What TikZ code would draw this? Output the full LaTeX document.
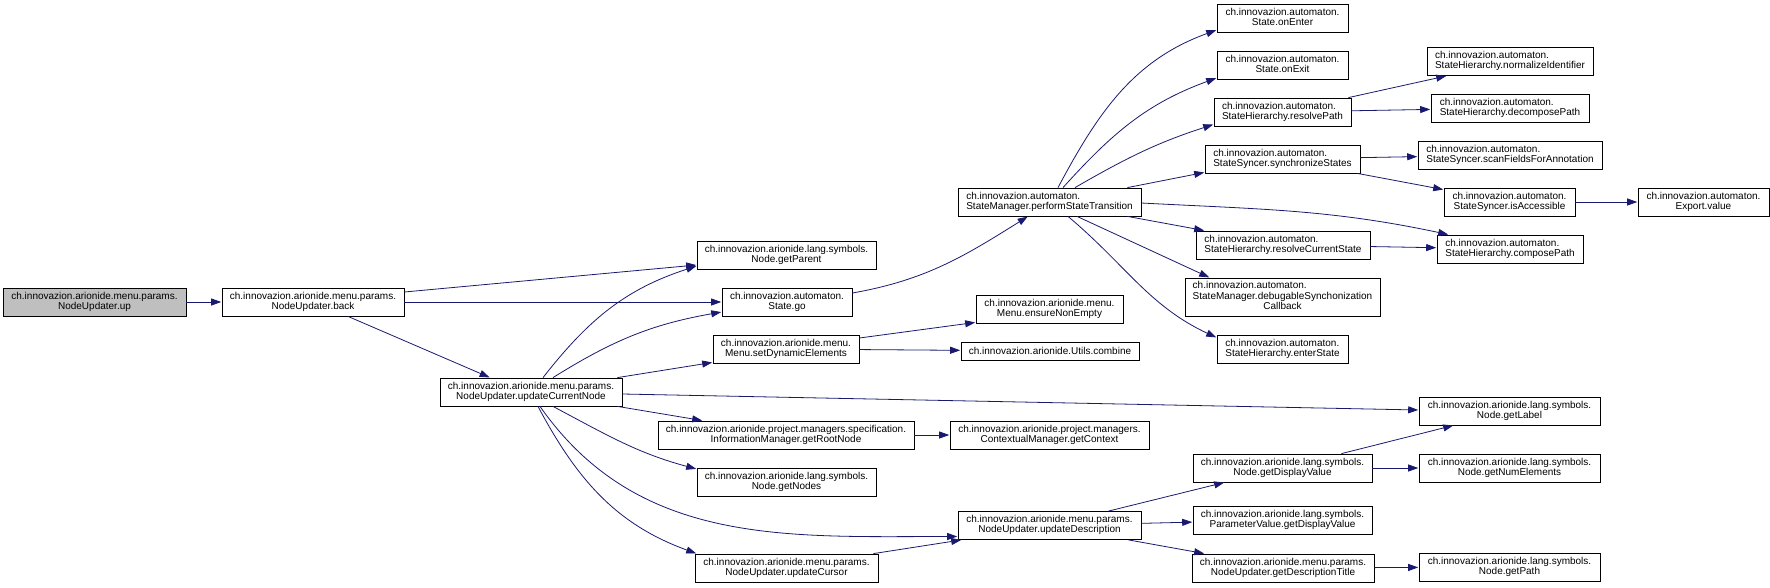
\documentclass[tikz,border=0pt]{standalone}
\usepackage{fontspec}
\setmainfont{Liberation Sans}
\usetikzlibrary{arrows.meta}
\definecolor{callblue}{HTML}{191970}
\definecolor{rootgray}{HTML}{BFBFBF}
\newcommand{\fnlabel}[2]{\begin{tabular}{@{}l@{}}#1\\\multicolumn{1}{@{}c@{}}{#2}\end{tabular}}
\tikzset{
  fn/.style={draw=black,fill=white,line width=0.8pt,inner sep=2pt,
    minimum height=28pt,font=\fontsize{10}{10}\selectfont},
  rootfn/.style={fn,fill=rootgray},
  call/.style={draw=callblue,line width=0.8pt,
    -{Triangle[length=10pt,width=7pt]},shorten >=0.4pt},
}
\begin{document}
\begin{tikzpicture}[x=1pt,y=1pt]
  \useasboundingbox (0,0) rectangle (1770,-587);
  % column 0 and 1
  \node[rootfn,minimum width=183pt] (up) at (94.5,-302)
    {\fnlabel{ch.innovazion.arionide.menu.params.}{NodeUpdater.up}};
  \node[fn,minimum width=182pt] (back) at (313,-302)
    {\fnlabel{ch.innovazion.arionide.menu.params.}{NodeUpdater.back}};
  \node[fn,minimum width=182pt] (updCur) at (531,-392)
    {\fnlabel{ch.innovazion.arionide.menu.params.}{NodeUpdater.updateCurrentNode}};
  % column 2
  \node[fn,minimum width=179pt] (getParent) at (786.5,-255)
    {\fnlabel{ch.innovazion.arionide.lang.symbols.}{Node.getParent}};
  \node[fn,minimum width=130pt] (go) at (787,-302)
    {\fnlabel{ch.innovazion.automaton.}{State.go}};
  \node[fn,minimum width=146pt] (setDyn) at (786,-349)
    {\fnlabel{ch.innovazion.arionide.menu.}{Menu.setDynamicElements}};
  \node[fn,minimum width=256pt] (getRootNode) at (786,-435)
    {\fnlabel{ch.innovazion.arionide.project.managers.specification.}{InformationManager.getRootNode}};
  \node[fn,minimum width=179pt] (getNodes) at (786.5,-482)
    {\fnlabel{ch.innovazion.arionide.lang.symbols.}{Node.getNodes}};
  \node[fn,minimum width=183pt] (updCursor) at (786.5,-568)
    {\fnlabel{ch.innovazion.arionide.menu.params.}{NodeUpdater.updateCursor}};
  % column 3
  \node[fn,minimum width=183pt] (perform) at (1049.5,-202)
    {\fnlabel{ch.innovazion.automaton.}{StateManager.performStateTransition}};
  \node[fn,minimum width=147pt] (ensureNonEmpty) at (1049.5,-309)
    {\fnlabel{ch.innovazion.arionide.menu.}{Menu.ensureNonEmpty}};
  \node[fn,minimum width=178pt,minimum height=18pt] (combine) at (1050,-351)
    {ch.innovazion.arionide.Utils.combine};
  \node[fn,minimum width=199pt] (getContext) at (1049.5,-435)
    {\fnlabel{ch.innovazion.arionide.project.managers.}{ContextualManager.getContext}};
  \node[fn,minimum width=183pt] (updDesc) at (1049.5,-525.5)
    {\fnlabel{ch.innovazion.arionide.menu.params.}{NodeUpdater.updateDescription}};
  % column 4
  \node[fn,minimum width=131pt] (onEnter) at (1282.5,-18)
    {\fnlabel{ch.innovazion.automaton.}{State.onEnter}};
  \node[fn,minimum width=131pt] (onExit) at (1282.5,-65)
    {\fnlabel{ch.innovazion.automaton.}{State.onExit}};
  \node[fn,minimum width=137pt] (resolvePath) at (1282.5,-112)
    {\fnlabel{ch.innovazion.automaton.}{StateHierarchy.resolvePath}};
  \node[fn,minimum width=155pt] (syncStates) at (1282.5,-159)
    {\fnlabel{ch.innovazion.automaton.}{StateSyncer.synchronizeStates}};
  \node[fn,minimum width=174pt] (resolveCurrent) at (1283,-245)
    {\fnlabel{ch.innovazion.automaton.}{StateHierarchy.resolveCurrentState}};
  \node[fn,minimum width=195pt,minimum height=38pt] (debugCallback) at (1282.5,-297)
    {\fnlabel{ch.innovazion.automaton.\\StateManager.debugableSynchonization}{Callback}};
  \node[fn,minimum width=131pt] (enterState) at (1282.5,-349)
    {\fnlabel{ch.innovazion.automaton.}{StateHierarchy.enterState}};
  \node[fn,minimum width=179pt] (nodeDisplay) at (1282.5,-468)
    {\fnlabel{ch.innovazion.arionide.lang.symbols.}{Node.getDisplayValue}};
  \node[fn,minimum width=179pt] (paramDisplay) at (1282.5,-520)
    {\fnlabel{ch.innovazion.arionide.lang.symbols.}{ParameterValue.getDisplayValue}};
  \node[fn,minimum width=182pt] (descTitle) at (1283,-568)
    {\fnlabel{ch.innovazion.arionide.menu.params.}{NodeUpdater.getDescriptionTitle}};
  % column 5 and 6
  \node[fn,minimum width=166pt] (normalizeId) at (1510,-61.5)
    {\fnlabel{ch.innovazion.automaton.}{StateHierarchy.normalizeIdentifier}};
  \node[fn,minimum width=158pt] (decomposePath) at (1510,-108)
    {\fnlabel{ch.innovazion.automaton.}{StateHierarchy.decomposePath}};
  \node[fn,minimum width=184pt] (scanFields) at (1510,-155)
    {\fnlabel{ch.innovazion.automaton.}{StateSyncer.scanFieldsForAnnotation}};
  \node[fn,minimum width=131pt] (isAccessible) at (1509.5,-202)
    {\fnlabel{ch.innovazion.automaton.}{StateSyncer.isAccessible}};
  \node[fn,minimum width=131pt] (exportValue) at (1703.5,-202)
    {\fnlabel{ch.innovazion.automaton.}{Export.value}};
  \node[fn,minimum width=146pt] (composePath) at (1510,-249)
    {\fnlabel{ch.innovazion.automaton.}{StateHierarchy.composePath}};
  \node[fn,minimum width=181pt] (getLabel) at (1509.5,-411)
    {\fnlabel{ch.innovazion.arionide.lang.symbols.}{Node.getLabel}};
  \node[fn,minimum width=181pt] (getNumElements) at (1509.5,-468)
    {\fnlabel{ch.innovazion.arionide.lang.symbols.}{Node.getNumElements}};
  \node[fn,minimum width=181pt] (getPath) at (1509.5,-567)
    {\fnlabel{ch.innovazion.arionide.lang.symbols.}{Node.getPath}};

  % straight calls between box centres
  \foreach \a/\b in {up/back,back/go,setDyn/combine,getRootNode/getContext,
      resolvePath/decomposePath,syncStates/scanFields,isAccessible/exportValue,
      resolveCurrent/composePath,updDesc/paramDisplay,nodeDisplay/getNumElements,
      descTitle/getPath}
    \draw[call] (\a) -- (\b);

  % straight calls between border points
  \draw[call] ([yshift=10pt]back.east) -- ([yshift=-10pt]getParent.west);
  \draw[call] ([xshift=35pt]back.south) -- ([xshift=-41pt]updCur.north);
  \draw[call] ([xshift=-5pt]updCur.north east) -- ([yshift=1pt]setDyn.south west);
  \draw[call] ([yshift=-2pt]updCur.east) -- ([yshift=1pt]getLabel.west);
  \draw[call] ([xshift=-5pt]updCur.south east) -- ([xshift=45pt]getRootNode.north west);
  \draw[call] ([yshift=11pt]setDyn.east) -- ([yshift=1pt]ensureNonEmpty.south west);
  \draw[call] ([xshift=-5pt]updCursor.north east) -- ([xshift=4pt]updDesc.south west);
  \draw[call] ([xshift=-14pt]perform.north east) -- ([yshift=1pt]syncStates.south west);
  \draw[call] ([xshift=-14pt]perform.south east) -- ([xshift=9pt]resolveCurrent.north west);
  \draw[call] ([xshift=27.5pt]perform.south) -- ([xshift=25pt]debugCallback.north west);
  \draw[call] ([xshift=-3pt]resolvePath.north east) -- ([xshift=20pt]normalizeId.south west);
  \draw[call] ([xshift=-3pt]syncStates.south east) -- ([yshift=-2pt]isAccessible.north west);
  \draw[call] ([xshift=-33pt]updDesc.north east) -- ([xshift=32pt]nodeDisplay.south west);
  \draw[call] ([xshift=-13pt]updDesc.south east) -- ([xshift=13pt]descTitle.north west);
  \draw[call] ([xshift=-31pt]nodeDisplay.north east) -- ([xshift=35pt]getLabel.south west);

  % curved calls
  \draw[call] ([xshift=12pt]updCur.north) to[out=52,in=198] ([yshift=-11pt]getParent.west);
  \draw[call] ([xshift=22pt]updCur.north) to[out=32,in=190] ([yshift=-10pt]go.west);
  \draw[call] ([xshift=22pt]updCur.south) to[out=-28,in=165] ([yshift=13pt]getNodes.west);
  \draw[call] ([xshift=9pt]updCur.south) to[out=-55,in=180] ([yshift=-11pt]updDesc.west);
  \draw[call] ([xshift=7pt]updCur.south) to[out=-62,in=160] ([xshift=2pt]updCursor.north west);
  \draw[call] ([yshift=9pt]go.east) to[out=10,in=212] ([xshift=-21.5pt]perform.south);
  \draw[call] ([xshift=8.5pt]perform.north) to[out=62,in=200] ([yshift=-12pt]onEnter.west);
  \draw[call] ([xshift=13.5pt]perform.north) to[out=48,in=200] ([yshift=-13pt]onExit.west);
  \draw[call] ([xshift=25.5pt]perform.north) to[out=30,in=198] ([yshift=2pt]resolvePath.south west);
  \draw[call] ([yshift=-1pt]perform.east) to[out=-3,in=168] ([xshift=12pt]composePath.north west);
  \draw[call] ([xshift=18.5pt]perform.south) to[out=-40,in=155] ([yshift=-3pt]enterState.north west);
\end{tikzpicture}
\end{document}
